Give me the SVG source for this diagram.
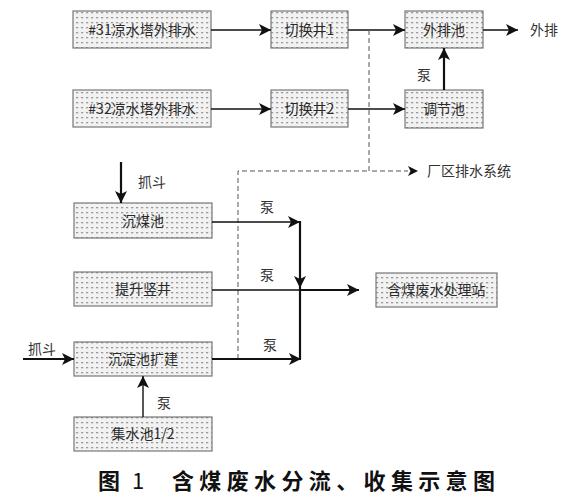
<svg xmlns="http://www.w3.org/2000/svg" width="586" height="497" viewBox="0 0 586 497">
<defs>
<pattern id="dots" width="5" height="5" patternUnits="userSpaceOnUse">
<rect width="5" height="5" fill="#f2f2f2"/>
<rect x="1" y="2" width="2.2" height="1.3" fill="#9a9a9a"/>
</pattern>
<marker id="ah" viewBox="0 0 12 12" refX="12" refY="6" markerWidth="12" markerHeight="12" markerUnits="userSpaceOnUse" orient="auto">
<path d="M0,0 L12,6 L0,12 L3,6 Z" fill="#111"/>
</marker>
</defs>
<style>
.box{fill:url(#dots);stroke:#777;stroke-width:1.2}
.bt{font-family:"Noto Sans CJK SC","Noto Sans",sans-serif;font-size:14px;fill:#2a2a2a;text-anchor:middle}
.lb{font-family:"Noto Sans CJK SC","Noto Sans",sans-serif;font-size:14px;fill:#333}
.ln{fill:none;stroke:#111;stroke-width:1.4}
.th{fill:none;stroke:#111;stroke-width:2.2}
.ds{fill:none;stroke:#555;stroke-width:1;stroke-dasharray:5 3}
.cap{font-family:"Noto Sans CJK SC","Noto Sans",sans-serif;font-size:22px;font-weight:bold;fill:#111}
.capn{font-family:"Noto Sans CJK SC","Noto Sans",sans-serif;font-size:22px;font-weight:normal;fill:#111}
</style>
<g id="n31"><rect class="box" x="73" y="11" width="138" height="37"/><text class="bt" x="142" y="35">#31凉水塔外排水</text></g>
<g id="q1"><rect class="box" x="271" y="11" width="77" height="37"/><text class="bt" x="309.5" y="35">切换井1</text></g>
<g id="wpc"><rect class="box" x="405" y="11" width="78" height="37"/><text class="bt" x="444" y="35">外排池</text></g>
<g id="n32"><rect class="box" x="73" y="90" width="138" height="37"/><text class="bt" x="142" y="114">#32凉水塔外排水</text></g>
<g id="q2"><rect class="box" x="271" y="90" width="77" height="37"/><text class="bt" x="309.5" y="114">切换井2</text></g>
<g id="tjc"><rect class="box" x="405" y="90" width="78" height="38"/><text class="bt" x="444" y="114">调节池</text></g>
<g id="cmc"><rect class="box" x="74" y="203" width="138" height="35"/><text class="bt" x="143" y="226">沉煤池</text></g>
<g id="tssj"><rect class="box" x="74" y="272" width="138" height="34"/><text class="bt" x="143" y="294">提升竖井</text></g>
<g id="cdc"><rect class="box" x="74" y="342" width="138" height="34"/><text class="bt" x="143" y="364">沉淀池扩建</text></g>
<g id="jsc"><rect class="box" x="74" y="417" width="138" height="34"/><text class="bt" x="143" y="439">集水池1/2</text></g>
<g id="clz"><rect class="box" x="376" y="273" width="121" height="34"/><text class="bt" x="436.5" y="295">含煤废水处理站</text></g>
<g id="connectors">
<line class="ln" x1="211" y1="30" x2="271" y2="30" marker-end="url(#ah)"/>
<line class="ln" x1="348" y1="30" x2="405" y2="30" marker-end="url(#ah)"/>
<line class="ln" x1="483" y1="30" x2="518" y2="30" marker-end="url(#ah)"/>
<line class="ln" x1="211" y1="109" x2="271" y2="109" marker-end="url(#ah)"/>
<line class="ln" x1="348" y1="109" x2="405" y2="109" marker-end="url(#ah)"/>
<line class="th" x1="444" y1="90" x2="444" y2="48" marker-end="url(#ah)"/>
<polyline class="ds" points="369,30 369,171 408,171"/>
<polyline class="ds" points="238,359 238,171 369,171"/>
<path d="M408,166 L418,171 L408,176 L410.5,171 Z" fill="#111"/>
<line class="th" x1="121" y1="162" x2="121" y2="203" marker-end="url(#ah)"/>
<line class="ln" x1="212" y1="222" x2="300" y2="222" marker-end="url(#ah)"/>
<polyline class="th" points="300,221 300,359"/>
<path d="M294,276 L300,288 L306,276 L300,279 Z" fill="#111"/>
<line class="ln" x1="212" y1="290" x2="300" y2="290"/>
<line class="th" x1="300" y1="290" x2="359" y2="290" marker-end="url(#ah)"/>
<line class="th" x1="23" y1="359" x2="74" y2="359" marker-end="url(#ah)"/>
<line class="th" x1="212" y1="359" x2="301" y2="359" marker-end="url(#ah)"/>
<line class="ln" x1="143" y1="417" x2="143" y2="376" marker-end="url(#ah)"/>
</g>
<g id="labels">
<text class="lb" x="530" y="35">外排</text>
<text class="lb" x="427" y="176">厂区排水系统</text>
<text class="lb" x="417" y="80">泵</text>
<text class="lb" x="138" y="187">抓斗</text>
<text class="lb" x="260" y="212">泵</text>
<text class="lb" x="260" y="280">泵</text>
<text class="lb" x="263" y="350">泵</text>
<text class="lb" x="28" y="354">抓斗</text>
<text class="lb" x="157" y="408">泵</text>
</g>
<g id="caption">
<text class="cap" x="98" y="489">图</text>
<text class="capn" x="132" y="489">1</text>
<text class="cap" x="172" y="489" textLength="323" lengthAdjust="spacing">含煤废水分流、收集示意图</text>
</g>
</svg>
